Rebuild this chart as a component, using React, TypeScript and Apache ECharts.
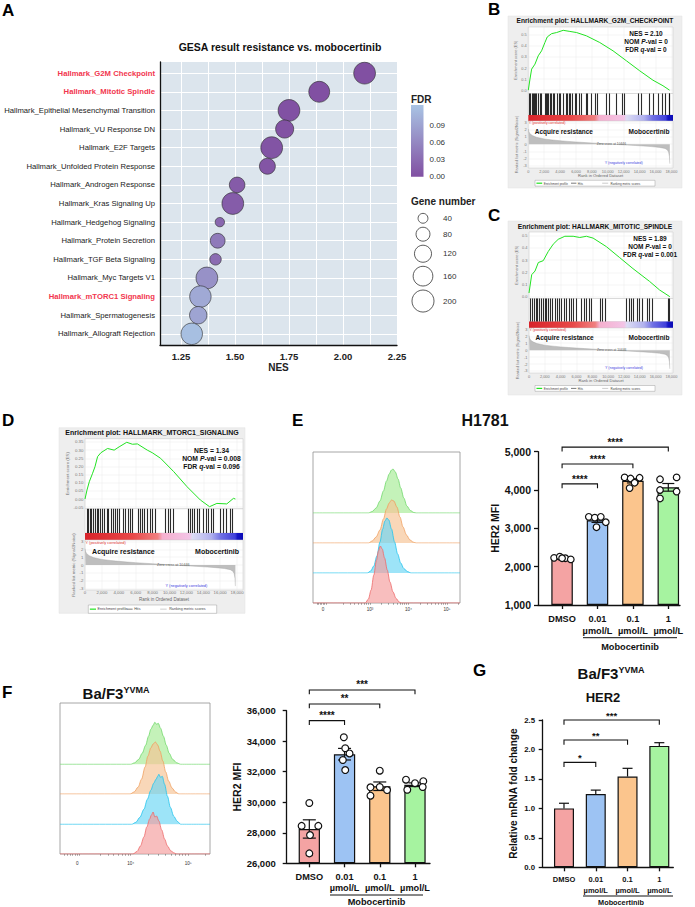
import React, { useEffect, useRef } from 'react';
import * as echarts from 'echarts';

const FONT = '"Liberation Sans", Arial, Helvetica, sans-serif';
const INK = '#111111';

// ---------------- Panel A: GSEA summary bubbles ----------------
const hallmarkTerms = [
  'Hallmark_G2M Checkpoint',
  'Hallmark_Mitotic Spindle',
  'Hallmark_Epithelial Mesenchymal Transition',
  'Hallmark_VU Response DN',
  'Hallmark_E2F Targets',
  'Hallmark_Unfolded Protein Response',
  'Hallmark_Androgen Response',
  'Hallmark_Kras Signaling Up',
  'Hallmark_Hedgehog Signaling',
  'Hallmark_Protein Secretion',
  'Hallmark_TGF Beta Signaling',
  'Hallmark_Myc Targets V1',
  'Hallmark_mTORC1 Signaling',
  'Hallmark_Spermatogenesis',
  'Hallmark_Allograft Rejection',
];
const hallmarkNES = [2.1, 1.89, 1.75, 1.73, 1.67, 1.65, 1.51, 1.49, 1.43, 1.42, 1.41, 1.37, 1.34, 1.33, 1.3];
const hallmarkFDR = [0.0, 0.0, 0.001, 0.002, 0.004, 0.005, 0.012, 0.013, 0.025, 0.045, 0.03, 0.07, 0.096, 0.09, 0.12];
const hallmarkGeneCount = [195, 180, 195, 135, 195, 105, 100, 195, 36, 90, 54, 195, 190, 125, 190];
const highlightedTerms = ['Hallmark_G2M Checkpoint', 'Hallmark_Mitotic Spindle', 'Hallmark_mTORC1 Signaling'];
const nesLabelValues = [1.25, 1.5, 1.75, 2.0, 2.25];
const nesGridValues = [1.25, 1.375, 1.5, 1.625, 1.75, 1.875, 2.0, 2.125, 2.25];
const fdrLabelValues = [0, 0.03, 0.06, 0.09];
const geneLegendValues = [40, 80, 120, 160, 200];

// ---------------- Panels B-D: enrichment plots ----------------
const rankTickValues = [0, 2000, 4000, 6000, 8000, 10000, 12000, 14000, 16000, 18000];
const rankedMetricTicks = [-3, -2, -1, 0, 1, 2, 3];
const zeroCrossRank = 10446;
const rankedListMetric = [
  [0, 2.1], [60, 1.75], [200, 1.45], [500, 1.2], [1000, 0.95], [2000, 0.72], [3000, 0.58], [4000, 0.47],
  [5000, 0.38], [6000, 0.3], [7000, 0.23], [8000, 0.16], [9000, 0.09], [10446, 0], [11500, -0.07],
  [12500, -0.13], [13500, -0.19], [14500, -0.26], [15500, -0.34], [16500, -0.45], [17200, -0.6],
  [17500, -0.8], [17650, -1.1], [17750, -1.7], [17800, -2.7],
];
const g2mRunningES = [
  [0, 0.0], [210, 0.1], [420, 0.19], [840, 0.235], [1250, 0.31], [1670, 0.355], [2090, 0.43], [2380, 0.48],
  [2930, 0.51], [3560, 0.52], [4390, 0.54], [5230, 0.53], [6070, 0.52], [7320, 0.49], [8990, 0.43],
  [10660, 0.355], [12340, 0.265], [14010, 0.175], [15680, 0.09], [16940, 0.04], [17770, 0.0],
];
const g2mHits = [
  125, 293, 460, 627, 752, 920, 1045, 1212, 1463, 1672, 2090, 2215, 2383, 2550, 2717, 2926, 3135, 3302, 3637,
  3887, 4055, 4389, 4723, 4891, 5141, 5309, 5559, 5852, 6061, 6395, 6604, 7231, 7399, 7942, 8360, 8653, 9823,
  10241, 11077, 11829, 12122, 13794, 14212, 15257, 15759, 16302, 16845, 17263, 17681, 17780,
];
const mitoticRunningES = [
  [0, 0.03], [340, 0.18], [760, 0.21], [1180, 0.28], [1800, 0.295], [2430, 0.37], [3060, 0.43], [3690, 0.47],
  [4530, 0.495], [5580, 0.495], [6420, 0.485], [7260, 0.495], [8100, 0.48], [9780, 0.41], [11460, 0.32],
  [13140, 0.23], [15240, 0.125], [16500, 0.055], [17800, 0.0],
];
const mitoticHits = [
  210, 462, 672, 882, 1092, 1302, 1596, 1806, 2058, 2226, 2478, 2730, 2982, 3276, 3570, 3822, 4116, 4410, 4746,
  5082, 5334, 5586, 5922, 6636, 6930, 7266, 7602, 7896, 8946, 9282, 9576, 12306, 12642, 12936, 13230, 13650,
  13986, 14322, 14910, 15246, 15582, 17556, 17766,
];
const mtorc1RunningES = [
  [0, 0.0], [235, 0.055], [510, 0.106], [900, 0.158], [1180, 0.198], [1490, 0.26], [1880, 0.284], [2670, 0.31],
  [3450, 0.3], [4040, 0.32], [4940, 0.348], [5610, 0.336], [6200, 0.338], [7370, 0.3], [7960, 0.284],
  [8940, 0.25], [10500, 0.168], [12070, 0.076], [13650, -0.006], [14740, -0.047], [15610, -0.027],
  [16780, -0.03], [17570, 0.004], [17800, 0.0],
];
const mtorc1Hits = [
  235, 392, 627, 784, 1019, 1215, 1411, 1607, 1803, 2078, 2274, 2587, 2744, 3058, 3293, 3567, 3842, 4077, 4547,
  4822, 5096, 5410, 5645, 6272, 6507, 6782, 7056, 7370, 7683, 7958, 8350, 9526, 9800, 10114, 10388, 12270,
  12466, 12701, 12975, 13250, 13563, 14034, 14308, 14622, 14935, 15210, 15994, 16307, 16699, 17170, 17444,
];
const g2mStats = ['2.10', '0', '0'];
const mitoticStats = ['1.89', '0', '0.001'];
const mtorc1Stats = ['1.34', '0.008', '0.096'];

// ---------------- Panels E-G ----------------
const treatmentLabels = ['DMSO', '0.01\nµmol/L', '0.1\nµmol/L', '1\nµmol/L'];
const treatmentColors = ['#F4A3A3', '#9DC3F3', '#FBC58D', '#A6F3A0'];
const treatmentLines = ['#EE6A6A', '#22C4EE', '#F0A060', '#6FD86A'];
const treatmentFills = ['#F49C9C', '#6AD6F4', '#F6C293', '#A6EC94'];

const h1781Mean = [2210, 3210, 4240, 4070];
const h1781Sem = [15, 55, 55, 100];
const h1781Points = [
  [2230, 2260, 2220, 2190, 2220],
  [3300, 3280, 3300, 3160, 3030],
  [4330, 4300, 4320, 4190, 4050],
  [4280, 4330, 4000, 3780, 3960],
];
const h1781SigPairs = [[0, 1], [0, 2], [0, 3]];
const h1781SigLabels = ['****', '****', '****'];
const h1781SigLevels = [4160, 4680, 5120];

// histogram x values are log10 decades of fluorescence, y values relative cell counts
const h1781HistDMSO = [[1.52, 0], [2.88, 0], [2.96, 4], [3.03, 13], [3.1, 28], [3.17, 43], [3.22, 52], [3.27, 57], [3.32, 54], [3.38, 45], [3.45, 33], [3.52, 21], [3.6, 11], [3.68, 4.5], [3.76, 1], [3.82, 0], [5.34, 0]];
const h1781Hist001 = [[1.52, 0], [2.93, 0], [3.02, 2], [3.1, 7], [3.18, 17], [3.26, 31], [3.33, 44], [3.39, 52], [3.44, 55], [3.49, 53], [3.56, 44], [3.64, 31], [3.72, 19], [3.8, 10], [3.88, 4.5], [3.97, 1.5], [4.07, 0], [5.34, 0]];
const h1781Hist01 = [[1.52, 0], [2.96, 0], [3.06, 2], [3.16, 6], [3.26, 13], [3.35, 24], [3.43, 34], [3.5, 40], [3.56, 43], [3.62, 42], [3.7, 36], [3.78, 26], [3.86, 16], [3.95, 8], [4.04, 3], [4.13, 0.8], [4.2, 0], [5.34, 0]];
const h1781Hist1 = [[1.52, 0], [2.96, 0], [3.06, 1.5], [3.16, 5], [3.26, 12], [3.35, 22], [3.43, 32], [3.5, 39], [3.56, 43], [3.6, 44], [3.66, 41], [3.73, 34], [3.8, 25], [3.88, 15], [3.96, 7], [4.05, 2.5], [4.14, 0.5], [4.2, 0], [5.34, 0]];

const yvmaMean = [28250, 33150, 31050, 31150];
const yvmaSem = [600, 380, 280, 120];
const yvmaPoints = [
  [29950, 28450, 28450, 27850, 26650],
  [34260, 33540, 33200, 32770, 32110],
  [32070, 30980, 31000, 30800, 30430],
  [31480, 31250, 31380, 30820, 31000],
];
const yvmaSigPairs = [[0, 1], [0, 2], [0, 3]];
const yvmaSigLabels = ['****', '**', '***'];
const yvmaSigLevels = [35350, 36440, 37360];

const yvmaHistDMSO = [[2.77, 0], [4.04, 0], [4.11, 2.5], [4.17, 8], [4.23, 17], [4.28, 27], [4.33, 35], [4.36, 39], [4.39, 42], [4.42, 37], [4.45, 38], [4.49, 33], [4.54, 24], [4.59, 15], [4.64, 8], [4.7, 3], [4.76, 1], [4.8, 0], [5.38, 0]];
const yvmaHist001 = [[2.77, 0], [4.02, 0], [4.09, 2], [4.16, 7], [4.23, 15], [4.29, 25], [4.35, 34], [4.4, 41], [4.44, 45], [4.47, 48], [4.49, 50], [4.52, 47], [4.55, 48], [4.59, 40], [4.64, 28], [4.69, 17], [4.75, 8], [4.81, 3], [4.87, 0], [5.38, 0]];
const yvmaHist01 = [[2.77, 0], [3.99, 0], [4.06, 2], [4.13, 7], [4.19, 15], [4.25, 27], [4.3, 38], [4.35, 46], [4.39, 50], [4.43, 52], [4.47, 49], [4.51, 43], [4.56, 33], [4.61, 22], [4.66, 13], [4.72, 6], [4.78, 2], [4.84, 0], [5.38, 0]];
const yvmaHist1 = [[2.77, 0], [4.0, 0], [4.07, 1.5], [4.14, 5], [4.2, 11], [4.26, 19], [4.31, 28], [4.35, 35], [4.39, 39], [4.42, 42], [4.45, 40], [4.48, 41], [4.52, 36], [4.57, 28], [4.62, 19], [4.67, 11], [4.73, 5], [4.8, 1.5], [4.87, 0], [5.38, 0]];

const her2FoldMean = [1.0, 1.245, 1.54, 2.06];
const her2FoldSem = [0.087, 0.065, 0.14, 0.055];
const her2SigPairs = [[0, 1], [0, 2], [0, 3]];
const her2SigLabels = ['*', '**', '***'];
const her2SigLevels = [1.78, 2.16, 2.5];

// dot spread (pixels) used by the scatter overlay, per group and per replicate
const h1781Spread = [[-8, -2.3, 3.3, 8.7, 0], [-8.7, -2.7, 3.3, 8.3, -1], [-8.3, -2.3, 6.7, 1.7, -3.3], [-8.3, 8.3, -8.3, -8.3, 8.3]];
const yvmaSpread = [[0, -7.7, 9, 0.7, 0], [-0.7, 0.7, 5, -1.7, 0.7], [0, -9.3, 0, 7.3, -9.3], [-9, 0, 8.3, -7.7, 7.7]];

const geneDiameter = (n: number) => 1.56 * Math.sqrt(n);
const comma = (v: number) => Math.round(v).toLocaleString('en-US');

function buildOption() {
  const grids: any[] = [];
  const xAxes: any[] = [];
  const yAxes: any[] = [];
  const series: any[] = [];
  const gfx: any[] = [];
  const visualMaps: any[] = [];

  const addGrid = (g: any, x: any, y: any) => {
    const i = grids.length;
    grids.push({ outerBoundsMode: 'none', containLabel: false, borderWidth: 0, ...g });
    xAxes.push({ gridIndex: i, ...x });
    yAxes.push({ gridIndex: i, ...y });
    return i;
  };
  const hidden = (min: number, max: number) => ({ type: 'value', show: false, min, max });
  const text = (x: number, y: number, t: string, st: any = {}, z = 50) =>
    gfx.push({ type: 'text', x, y, z, silent: true, style: { text: t, fontFamily: FONT, fill: INK, align: 'left', verticalAlign: 'middle', ...st } });
  const line = (x1: number, y1: number, x2: number, y2: number, stroke: string, lw: number, z = 50) =>
    gfx.push({ type: 'line', z, silent: true, shape: { x1, y1, x2, y2 }, style: { stroke, lineWidth: lw } });

  // ================= Panel A =================
  const catValues = hallmarkTerms.map((_, i) => i + 1);
  const gA = addGrid(
    { left: 160, top: 62, width: 237, height: 283, show: true, backgroundColor: '#DCE5ED', borderWidth: 0 },
    {
      type: 'value', min: 1.153, max: 2.25,
      axisLine: { show: true, onZero: false, lineStyle: { color: INK, width: 1.3 } },
      axisTick: { show: false, customValues: nesGridValues },
      axisLabel: { customValues: nesLabelValues, formatter: (v: number) => v.toFixed(2), fontSize: 9.5, fontWeight: 'bold', color: '#222', margin: 6, fontFamily: FONT },
      splitLine: { show: true, lineStyle: { color: '#FFFFFF', width: 1 } },
      name: 'NES', nameLocation: 'middle', nameGap: 17,
      nameTextStyle: { fontSize: 10, fontWeight: 'bold', color: '#222', fontFamily: FONT },
    },
    {
      type: 'value', inverse: true, min: 0.4, max: 15.6,
      axisLine: { show: true, onZero: false, lineStyle: { color: INK, width: 1.3 } },
      axisTick: { show: false, customValues: catValues },
      axisLabel: {
        customValues: catValues,
        formatter: (v: number) => {
          const t = hallmarkTerms[Math.round(v) - 1] || '';
          return highlightedTerms.includes(t) ? `{hi|${t}}` : t;
        },
        fontSize: 7.7, color: '#1a1a1a', margin: 5, fontFamily: FONT,
        rich: { hi: { color: '#F2364E', fontWeight: 'bold', fontSize: 7.7, fontFamily: FONT } },
      },
      splitLine: { show: true, lineStyle: { color: '#FFFFFF', width: 1 } },
    }
  );
  series.push({
    type: 'scatter', xAxisIndex: gA, yAxisIndex: gA, z: 3,
    data: hallmarkTerms.map((_, i) => [hallmarkNES[i], i + 1, hallmarkFDR[i], hallmarkGeneCount[i]]),
    symbolSize: (v: number[]) => geneDiameter(v[3]),
    itemStyle: { borderColor: '#2A2A2A', borderWidth: 0.6, opacity: 1 },
  });
  visualMaps.push({
    type: 'continuous', show: false, seriesIndex: series.length - 1, dimension: 2, min: 0, max: 0.125,
    inRange: { color: ['#8150A2', '#A9C4E4'] },
  });
  text(280, 47, 'GESA result resistance vs. mobocertinib', { fontSize: 10.5, fontWeight: 'bold', align: 'center' });

  // FDR colour bar
  text(411, 99, 'FDR', { fontSize: 10, fontWeight: 'bold', fill: '#222' });
  addGrid(
    {
      left: 411, top: 105, width: 12.5, height: 71.7, show: true, borderWidth: 0,
      backgroundColor: new echarts.graphic.LinearGradient(0, 0, 0, 1, [
        { offset: 0, color: '#A9C4E4' }, { offset: 1, color: '#8150A2' },
      ]),
    },
    hidden(0, 1),
    {
      type: 'value', min: 0, max: 0.125, position: 'right',
      axisLine: { show: false },
      axisTick: { show: true, inside: true, length: 2.5, customValues: fdrLabelValues, lineStyle: { color: '#fff', width: 0.8 } },
      axisLabel: { customValues: fdrLabelValues, formatter: (v: number) => v.toFixed(2), fontSize: 8, color: '#333', margin: 6, fontFamily: FONT },
      splitLine: { show: false },
    }
  );
  // Gene number legend
  text(411, 201, 'Gene number', { fontSize: 10, fontWeight: 'bold', fill: '#222' });
  let ly = 218.3;
  geneLegendValues.forEach((n, i) => {
    if (i > 0) ly += (geneDiameter(geneLegendValues[i - 1]) + geneDiameter(n)) / 2 + 4;
    gfx.push({ type: 'circle', z: 50, silent: true, shape: { cx: 423, cy: ly, r: geneDiameter(n) / 2 }, style: { fill: '#fff', stroke: '#333', lineWidth: 0.8 } });
    text(443, ly, String(n), { fontSize: 8, fill: '#333' });
  });

  // ================= Panels B-D =================
  const bandGradient = () =>
    new echarts.graphic.LinearGradient(0, 0, 1, 0, [
      { offset: 0, color: '#D8232A' }, { offset: 0.3, color: '#E84848' }, { offset: 0.46, color: '#F08080' },
      { offset: 0.49, color: '#F5B0CE' }, { offset: 0.66, color: '#F3C4E6' }, { offset: 0.68, color: '#DCDCF4' },
      { offset: 0.8, color: '#B0B0EE' }, { offset: 0.86, color: '#7070E4' }, { offset: 0.95, color: '#4040DA' },
      { offset: 0.965, color: '#1515C5' }, { offset: 1, color: '#0A0AB5' },
    ]);

  const addGsea = (L: any, d: any) => {
    const W = L.right - L.left;
    gfx.push({ type: 'rect', z: -10, silent: true, shape: { x: L.x, y: L.y, width: L.w, height: L.h }, style: { fill: '#EEEEEE', stroke: '#E0E0E0', lineWidth: 0.5 } });
    text(L.x + L.w / 2, L.titleY, d.title, { fontSize: L.titleFont, fontWeight: 'bold', align: 'center' });
    const st = { fontSize: L.statFont, fontWeight: 'bold', align: 'center', rich: { i: { fontStyle: 'italic', fontWeight: 'bold', fontSize: L.statFont, fontFamily: FONT, fill: INK } } };
    text(L.statsX, L.statsY, `NES = ${d.stats[0]}`, st);
    text(L.statsX, L.statsY + L.statGap, `NOM {i|P}-val = ${d.stats[1]}`, st);
    text(L.statsX, L.statsY + 2 * L.statGap, `FDR {i|q}-val = ${d.stats[2]}`, st);

    const gridLine = { show: true, lineStyle: { color: '#E4E4E4', width: 0.4 } };
    const tiny = L.tiny;
    const esI = addGrid(
      { left: L.left, top: L.esTop, width: W, height: L.esBottom - L.esTop, show: true, backgroundColor: '#fff', borderColor: '#C4C4C4', borderWidth: 0.5 },
      { type: 'value', min: 0, max: L.rankMax, axisLine: { show: false }, axisTick: { show: false, customValues: rankTickValues }, axisLabel: { show: false }, splitLine: gridLine },
      {
        type: 'value', min: d.esMin, max: d.esMax, axisLine: { show: false },
        axisTick: { show: false, customValues: d.esTicks },
        axisLabel: { customValues: d.esTicks, formatter: (v: number) => v.toFixed(d.esDigits), fontSize: tiny, color: '#777', margin: 1.6, fontFamily: FONT },
        splitLine: gridLine,
        name: 'Enrichment score (ES)', nameLocation: 'middle', nameGap: L.esNameGap, nameRotate: 90,
        nameTextStyle: { fontSize: tiny, color: '#777', fontFamily: FONT },
      }
    );
    series.push({ type: 'line', xAxisIndex: esI, yAxisIndex: esI, data: d.es, showSymbol: false, symbol: 'none', lineStyle: { color: '#22E322', width: 1 }, z: 3 });

    const hitI = addGrid(
      { left: L.left, top: L.esBottom, width: W, height: L.hitsBottom - L.esBottom, show: true, backgroundColor: '#fff', borderColor: '#C4C4C4', borderWidth: 0.5 },
      hidden(0, L.rankMax), hidden(0, 1)
    );
    series.push({
      type: 'line', xAxisIndex: hitI, yAxisIndex: hitI, data: [[0, -5]], showSymbol: false, symbol: 'none', lineStyle: { opacity: 0 },
      markLine: {
        silent: true, symbol: ['none', 'none'], label: { show: false },
        lineStyle: { color: '#151515', width: 1.1, type: 'solid', opacity: 0.9 },
        data: d.hits.map((r: number) => ({ xAxis: r })),
      },
    });

    addGrid(
      { left: L.left, top: L.hitsBottom, width: W, height: L.bandBottom - L.hitsBottom, show: true, borderWidth: 0, backgroundColor: bandGradient() },
      hidden(0, 1), hidden(0, 1)
    );

    const rkI = addGrid(
      { left: L.left, top: L.bandBottom, width: W, height: L.rankBottom - L.bandBottom, show: true, backgroundColor: '#fff', borderColor: '#C4C4C4', borderWidth: 0.5 },
      {
        type: 'value', min: 0, max: L.rankMax, axisLine: { show: false },
        axisTick: { show: false, customValues: rankTickValues },
        axisLabel: { customValues: rankTickValues, formatter: (v: number) => comma(v), fontSize: tiny, color: '#777', margin: L.rankLabelMargin, fontFamily: FONT },
        splitLine: gridLine,
        name: 'Rank in Ordered Dataset', nameLocation: 'middle', nameGap: L.rankNameGap,
        nameTextStyle: { fontSize: tiny * 1.05, color: '#666', fontFamily: FONT },
      },
      {
        type: 'value', min: L.metricMin, max: L.metricMax, axisLine: { show: false },
        axisTick: { show: false, customValues: rankedMetricTicks },
        axisLabel: { customValues: rankedMetricTicks, fontSize: tiny, color: '#777', margin: 1.6, fontFamily: FONT },
        splitLine: gridLine,
        name: 'Ranked list metric (Signal2Noise)', nameLocation: 'middle', nameGap: L.metricNameGap, nameRotate: 90,
        nameTextStyle: { fontSize: tiny, color: '#777', fontFamily: FONT },
      }
    );
    series.push({
      type: 'line', xAxisIndex: rkI, yAxisIndex: rkI, data: rankedListMetric, showSymbol: false, symbol: 'none',
      lineStyle: { color: '#A0A0A0', width: 0.4 }, areaStyle: { color: '#BEBEBE', opacity: 1 }, z: 2,
      markPoint: {
        silent: true, symbol: 'circle', symbolSize: 0.01, itemStyle: { color: 'transparent' },
        label: { show: true, position: 'inside', formatter: `Zero cross at ${zeroCrossRank}`, fontSize: tiny * 0.85, color: '#555', fontFamily: FONT },
        data: [{ coord: [zeroCrossRank, 0] }],
      },
    });
    const rH = L.rankBottom - L.bandBottom;
    text(L.left + 0.5, L.bandBottom + 2.3, "'t' (positively correlated)", { fontSize: tiny * 0.9, fill: '#E03030' });
    text(L.left + 0.045 * W, L.bandBottom + 0.22 * rH, 'Acquire resistance', { fontSize: L.sideFont, fontWeight: 'bold' });
    text(L.right - 0.025 * W, L.bandBottom + 0.22 * rH, 'Mobocertinib', { fontSize: L.sideFont, fontWeight: 'bold', align: 'right' });
    text(L.left + (12000 / L.rankMax) * W, L.rankBottom - 5, "'f' (negatively correlated)", { fontSize: tiny * 0.9, fill: '#3A3AE0', align: 'center' });

    // legend box
    const lx = L.legendX, lw = L.legendW, lyy = L.legendY, lh = L.legendH, cy = lyy + lh / 2;
    gfx.push({ type: 'rect', z: 40, silent: true, shape: { x: lx, y: lyy, width: lw, height: lh }, style: { fill: '#fff', stroke: '#8A8A8A', lineWidth: 0.4 } });
    line(lx + 0.012 * lw, cy, lx + 0.06 * lw, cy, '#22E322', 1.2);
    text(lx + 0.072 * lw, cy, 'Enrichment profile', { fontSize: L.legendFont, fill: '#444' });
    line(lx + 0.3 * lw, cy, lx + 0.345 * lw, cy, '#222', 0.6);
    text(lx + 0.357 * lw, cy, 'Hits', { fontSize: L.legendFont, fill: '#444' });
    line(lx + 0.56 * lw, cy, lx + 0.61 * lw, cy, '#AAAAAA', 0.6);
    text(lx + 0.63 * lw, cy, 'Ranking metric scores', { fontSize: L.legendFont, fill: '#444' });
  };

  const smallGsea = { titleFont: 6.6, statFont: 6.5, statGap: 8, tiny: 3.9, sideFont: 6.5, legendFont: 3.0, esNameGap: 9, metricNameGap: 9.5, rankLabelMargin: 1, rankNameGap: 4.5, rankMax: 18200, metricMin: -3.3, metricMax: 3.2 };
  addGsea(
    { ...smallGsea, x: 508, y: 16, w: 174, h: 172, titleY: 20.5, left: 528.3, right: 673, esTop: 27, esBottom: 93.5, hitsBottom: 115, bandBottom: 121, rankBottom: 168, statsX: 646, statsY: 33.3, legendX: 535, legendY: 180.3, legendW: 120, legendH: 5.8 },
    { title: 'Enrichment plot: HALLMARK_G2M_CHECKPOINT', stats: g2mStats, es: g2mRunningES, hits: g2mHits, esMin: -0.03, esMax: 0.57, esTicks: [0, 0.1, 0.2, 0.3, 0.4, 0.5], esDigits: 1 }
  );
  addGsea(
    { ...smallGsea, x: 508, y: 221, w: 174, h: 174, titleY: 226.5, left: 529, right: 673, esTop: 232, esBottom: 298.5, hitsBottom: 321.5, bandBottom: 328, rankBottom: 373, statsX: 650, statsY: 238.3, statGap: 7.9, legendX: 535, legendY: 385.5, legendW: 120, legendH: 5.8 },
    { title: 'Enrichment plot: HALLMARK_MITOTIC_SPINDLE', stats: mitoticStats, es: mitoticRunningES, hits: mitoticHits, esMin: -0.015, esMax: 0.53, esTicks: [0, 0.1, 0.2, 0.3, 0.4, 0.5], esDigits: 1 }
  );
  addGsea(
    { titleFont: 7, statFont: 6.8, statGap: 8, tiny: 4.3, sideFont: 7, legendFont: 3.7, esNameGap: 15, metricNameGap: 9.5, rankLabelMargin: 0.5, rankNameGap: 6.8, rankMax: 18700, metricMin: -3.2, metricMax: 3.2,
      x: 59, y: 427.7, w: 186, h: 185.6, titleY: 432.5, left: 85, right: 243, esTop: 438.7, esBottom: 508.8, hitsBottom: 533, bandBottom: 540, rankBottom: 590, statsX: 211.5, statsY: 450, legendX: 88.3, legendY: 605, legendW: 128.4, legendH: 8.3 },
    { title: 'Enrichment plot: HALLMARK_MTORC1_SIGNALING', stats: mtorc1Stats, es: mtorc1RunningES, hits: mtorc1Hits, esMin: -0.06, esMax: 0.37, esTicks: [-0.05, 0, 0.05, 0.1, 0.15, 0.2, 0.25, 0.3, 0.35], esDigits: 2 }
  );

  // ================= Flow histograms =================
  const addHist = (H: any, lanes: any[]) => {
    addGrid(
      { left: H.left, top: H.top, width: H.width, height: H.height, show: true, backgroundColor: '#fff', borderColor: '#8F8F8F', borderWidth: 0.8 },
      {
        type: 'value', min: H.xMin, max: H.xMax, axisLine: { show: false },
        axisTick: { show: true, customValues: H.tickValues, length: 1.8, lineStyle: { color: '#555', width: 0.5 } },
        axisLabel: {
          customValues: H.labelValues,
          formatter: (v: number) => H.labelTexts[H.labelValues.findIndex((u: number) => Math.abs(u - v) < 1e-6)] || '',
          fontSize: 4.6, color: '#333', margin: H.labelMargin, fontFamily: FONT,
        },
        splitLine: { show: false },
      },
      hidden(0, 1)
    );
    lanes.forEach((ln, k) => {
      const gi = addGrid({ left: H.left, top: H.baselines[k] - H.laneH, width: H.width, height: H.laneH }, hidden(H.xMin, H.xMax), hidden(0, H.laneH));
      series.push({
        type: 'line', xAxisIndex: gi, yAxisIndex: gi, data: ln.data, showSymbol: false, symbol: 'none',
        smooth: 0.3, smoothMonotone: 'x', lineStyle: { color: ln.line, width: 0.8 }, areaStyle: { color: ln.fill, opacity: 0.66 }, z: 2 + k,
      });
    });
  };
  const logTicks = (from: number, to: number) => {
    const out: number[] = [];
    for (let d = 1; d <= 5; d++) for (let k = 1; k <= 9; k++) { const v = d + Math.log10(k); if (v >= from && v <= to) out.push(v); }
    return out;
  };
  addHist(
    { left: 313, top: 452, width: 147, height: 151, xMin: 1.52, xMax: 5.34, laneH: 60, baselines: [513, 543, 573, 603], labelMargin: 3.6,
      labelValues: [1.78, 3, 4, 5], labelTexts: ['0', '10³', '10⁴', '10⁵'],
      tickValues: [1.62, 1.66, 1.7, 1.74, 1.78, 1.82, 1.86, ...logTicks(2.3, 5.34)] },
    [
      { data: h1781Hist1, line: treatmentLines[3], fill: treatmentFills[3] },
      { data: h1781Hist01, line: treatmentLines[2], fill: treatmentFills[2] },
      { data: h1781Hist001, line: treatmentLines[1], fill: treatmentFills[1] },
      { data: h1781HistDMSO, line: treatmentLines[0], fill: treatmentFills[0] },
    ]
  );
  addHist(
    { left: 60, top: 703, width: 150, height: 151, xMin: 2.77, xMax: 5.38, laneH: 60, baselines: [764.3, 794, 824.3, 854], labelMargin: 6.5,
      labelValues: [3.07, 4, 5], labelTexts: ['0', '10⁴', '10⁵'],
      tickValues: [2.85, 2.9, 2.95, 2.99, 3.03, 3.07, 3.11, ...logTicks(3.45, 5.38)] },
    [
      { data: yvmaHist1, line: treatmentLines[3], fill: treatmentFills[3] },
      { data: yvmaHist01, line: treatmentLines[2], fill: treatmentFills[2] },
      { data: yvmaHist001, line: treatmentLines[1], fill: treatmentFills[1] },
      { data: yvmaHistDMSO, line: treatmentLines[0], fill: treatmentFills[0] },
    ]
  );

  // ================= Bar panels =================
  const addBars = (c: any) => {
    const axisLineStyle = { color: INK, width: 1.3 };
    const gi = addGrid(
      { left: c.left, top: c.top, width: c.width, height: c.height },
      {
        type: 'value', min: c.xMin, max: c.xMax,
        axisLine: { show: true, onZero: false, lineStyle: axisLineStyle },
        axisTick: { show: true, customValues: [0, 1, 2, 3], length: 4, lineStyle: axisLineStyle },
        axisLabel: { customValues: [0, 1, 2, 3], formatter: (v: number) => treatmentLabels[Math.round(v)], fontSize: c.xFont, fontWeight: 'bold', color: INK, lineHeight: c.xLineHeight, margin: c.xMargin, fontFamily: FONT },
        splitLine: { show: false },
      },
      {
        type: 'value', min: c.yMin, max: c.yMax, interval: c.yInterval, startValue: c.yMin,
        axisLine: { show: true, onZero: false, lineStyle: axisLineStyle },
        axisTick: { show: true, length: 4, lineStyle: axisLineStyle },
        axisLabel: { formatter: c.yFmt, fontSize: c.yFont, fontWeight: 'bold', color: INK, margin: c.yMargin, fontFamily: FONT, showMaxLabel: true },
        splitLine: { show: false },
        name: c.yName, nameLocation: 'middle', nameGap: c.nameGap,
        nameTextStyle: { fontSize: c.nameFont, fontWeight: 'bold', color: INK, fontFamily: FONT },
      }
    );
    series.push({
      type: 'bar', xAxisIndex: gi, yAxisIndex: gi, barWidth: c.barWidth, z: 2,
      data: c.means.map((m: number, i: number) => ({ value: [i, m], itemStyle: { color: treatmentColors[i] } })),
      itemStyle: { borderColor: INK, borderWidth: 1.2 },
    });
    series.push({
      type: 'custom', xAxisIndex: gi, yAxisIndex: gi, z: 3, clip: false,
      data: c.means.map((m: number, i: number) => [i, m, c.sems[i]]),
      renderItem: (params: any, api: any) => {
        const x = api.value(0), m = api.value(1), s = api.value(2);
        const top = api.coord([x, m + s]);
        const bot = api.coord([x, c.errBoth ? m - s : m]);
        const sty = { stroke: INK, lineWidth: 1.2 };
        const kids: any[] = [
          { type: 'line', shape: { x1: top[0], y1: top[1], x2: bot[0], y2: bot[1] }, style: sty },
          { type: 'line', shape: { x1: top[0] - c.capHalf, y1: top[1], x2: top[0] + c.capHalf, y2: top[1] }, style: sty },
        ];
        if (c.errBoth) kids.push({ type: 'line', shape: { x1: bot[0] - c.capHalf, y1: bot[1], x2: bot[0] + c.capHalf, y2: bot[1] }, style: sty });
        return { type: 'group', children: kids };
      },
    });
    if (c.points) {
      series.push({
        type: 'scatter', xAxisIndex: gi, yAxisIndex: gi, z: 4, symbolSize: c.dotSize,
        data: c.points.flatMap((arr: number[], i: number) => arr.map((v, j) => ({ value: [i, v], symbolOffset: [c.spread[i][j], 0] }))),
        itemStyle: { color: '#fff', borderColor: INK, borderWidth: 1.2, opacity: 1 },
      });
    }
    series.push({
      type: 'custom', xAxisIndex: gi, yAxisIndex: gi, z: 5, clip: false,
      data: c.sigPairs.map((p: number[], k: number) => [p[0], p[1], c.sigLevels[k]]),
      renderItem: (params: any, api: any) => {
        const a = api.coord([api.value(0), api.value(2)]);
        const b = api.coord([api.value(1), api.value(2)]);
        return {
          type: 'group',
          children: [
            { type: 'polyline', shape: { points: [[a[0], a[1] + c.drop], [a[0], a[1]], [b[0], b[1]], [b[0], b[1] + c.drop]] }, style: { stroke: INK, lineWidth: 1.1, fill: 'none' } },
            { type: 'text', x: (a[0] + b[0]) / 2, y: a[1] - c.starGap, style: { text: c.sigLabels[params.dataIndex], fontSize: c.starFont, fontWeight: 'bold', fill: INK, align: 'center', verticalAlign: 'middle', fontFamily: FONT } },
          ],
        };
      },
    });
  };

  addBars({
    left: 538, top: 451.7, width: 142, height: 153.3, xMin: -0.68, xMax: 3.33,
    yMin: 1000, yMax: 5000, yInterval: 1000, yFmt: (v: number) => comma(v), yFont: 10.5, yMargin: 7,
    xFont: 9.2, xLineHeight: 11.4, xMargin: 8.6, yName: 'HER2 MFI', nameGap: 36, nameFont: 10.5,
    barWidth: 21.5, means: h1781Mean, sems: h1781Sem, points: h1781Points, spread: h1781Spread, dotSize: 6.6,
    capHalf: 6, errBoth: true, sigPairs: h1781SigPairs, sigLevels: h1781SigLevels, sigLabels: h1781SigLabels,
    drop: 4.3, starFont: 10, starGap: 4.8,
  });
  addBars({
    left: 286.7, top: 710.7, width: 143.3, height: 152.6, xMin: -0.642, xMax: 3.426,
    yMin: 26000, yMax: 36000, yInterval: 2000, yFmt: (v: number) => comma(v), yFont: 9.5, yMargin: 11,
    xFont: 9.2, xLineHeight: 11.4, xMargin: 7.7, yName: 'HER2 MFI', nameGap: 41, nameFont: 10.5,
    barWidth: 21.3, means: yvmaMean, sems: yvmaSem, points: yvmaPoints, spread: yvmaSpread, dotSize: 6.8,
    capHalf: 6.5, errBoth: true, sigPairs: yvmaSigPairs, sigLevels: yvmaSigLevels, sigLabels: yvmaSigLabels,
    drop: 4.3, starFont: 10, starGap: 5,
  });
  addBars({
    left: 542.7, top: 720, width: 130.6, height: 147.3, xMin: -0.67, xMax: 3.44,
    yMin: 0, yMax: 2.5, yInterval: 0.5, yFmt: (v: number) => v.toFixed(1), yFont: 7.8, yMargin: 7.7,
    xFont: 7.5, xLineHeight: 10.7, xMargin: 7.3, yName: 'Relative mRNA fold change', nameGap: 24.7, nameFont: 10,
    barWidth: 20, means: her2FoldMean, sems: her2FoldSem, points: null, spread: null, dotSize: 0,
    capHalf: 5, errBoth: false, sigPairs: her2SigPairs, sigLevels: her2SigLevels, sigLabels: her2SigLabels,
    drop: 4.7, starFont: 9.5, starGap: 4.5,
  });

  // group annotations
  line(583, 637.7, 677, 637.7, INK, 1);
  text(630, 646.7, 'Mobocertinib', { fontSize: 9.2, fontWeight: 'bold', align: 'center' });
  line(330, 895, 423, 895, INK, 1);
  text(376.5, 901.7, 'Mobocertinib', { fontSize: 9.2, fontWeight: 'bold', align: 'center' });
  line(583, 896, 673, 896, INK, 1);
  text(621, 902.3, 'Mobocertinib', { fontSize: 7.3, fontWeight: 'bold', align: 'center' });

  // titles
  text(485, 420, 'H1781', { fontSize: 16, fontWeight: 'bold', align: 'center' });
  const supRich = { sup: { fontSize: 9, fontWeight: 'bold', verticalAlign: 'top', fontFamily: FONT, fill: INK } };
  text(116, 693, 'Ba/F3{sup|YVMA}', { fontSize: 15, fontWeight: 'bold', align: 'center', rich: supRich });
  text(611, 673, 'Ba/F3{sup|YVMA}', { fontSize: 15, fontWeight: 'bold', align: 'center', rich: supRich });
  text(603, 697, 'HER2', { fontSize: 13, fontWeight: 'bold', align: 'center' });

  // panel letters
  const letter = (x: number, y: number, t: string) => text(x, y, t, { fontSize: 17, fontWeight: 'bold', verticalAlign: 'top', fill: '#000' });
  letter(2, 2, 'A');
  letter(488, 1, 'B');
  letter(488, 207, 'C');
  letter(2, 412, 'D');
  letter(292, 412, 'E');
  letter(2, 684, 'F');
  letter(473, 662, 'G');

  return {
    animation: false,
    backgroundColor: '#ffffff',
    textStyle: { fontFamily: FONT },
    grid: grids,
    xAxis: xAxes,
    yAxis: yAxes,
    visualMap: visualMaps,
    series,
    graphic: { elements: gfx },
  };
}

export default function App() {
  const ref = useRef<HTMLDivElement | null>(null);
  useEffect(() => {
    const el = ref.current;
    if (!el) return;
    const chart = echarts.init(el, undefined, { renderer: 'svg' });
    chart.setOption(buildOption() as any);
    return () => {
      chart.dispose();
    };
  }, []);
  return <div ref={ref} style={{ position: 'absolute', left: 0, top: 0, width: 695, height: 907, background: '#ffffff' }} />;
}
